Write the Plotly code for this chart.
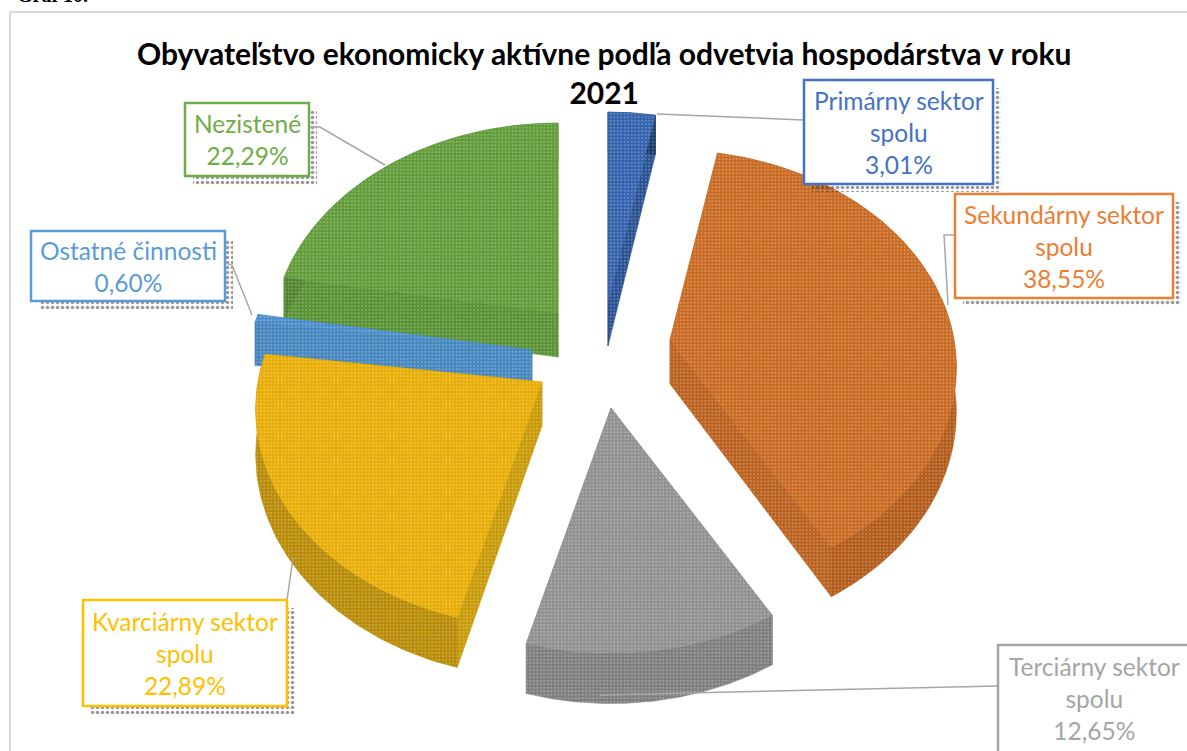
import numpy as np
import plotly.graph_objects as go

# ---- data ----
categories = ["Primárny sektor spolu", "Sekundárny sektor spolu", "Terciárny sektor spolu",
              "Kvarciárny sektor spolu", "Ostatné činnosti", "Nezistené"]
shares = [3.01, 38.55, 12.65, 22.89, 0.60, 22.29]
value_labels = ["3,01%", "38,55%", "12,65%", "22,89%", "0,60%", "22,29%"]
label_lines = [["Primárny sektor", "spolu"], ["Sekundárny sektor", "spolu"], ["Terciárny sektor", "spolu"],
               ["Kvarciárny sektor", "spolu"], ["Ostatné činnosti"], ["Nezistené"]]

# ---- style ----
top_colors = ["#3564ae", "#c96b24", "#919191", "#e8ad07", "#4c8ec9", "#629c3b"]
side_colors = ["#1d3a68", "#b35c1c", "#7f7f7f", "#b98c08", "#4480b8", "#528530"]
cut_colors = ["#2a5292", "#bb6220", "#888888", "#c99a08", "#4787bf", "#5a9236"]
box_colors = ["#4472C4", "#ED7D31", "#A5A5A5", "#FFC000", "#5B9BD5", "#70AD47"]
text_colors = box_colors
FONT = "Lato, Carlito, sans-serif"

# projection of the tilted pie onto the page
CX, CY = 606, 346
AX, AY, PERSP, DEPTH = 284, 214, 0.127, 44
offset_x = [2, 64, 5, -64, -74, -48]
offset_y = [-44, -6, 62, 36, 4, -33]
boxes = [(804, 80, 993, 184), (955, 194, 1173, 298), (998, 645, 1192, 756),
         (83, 600, 287, 706), (31, 231, 225, 301), (185, 103, 309, 176)]
leaders = [[(804, 120), (657, 114)], [(955, 235), (944, 235), (948, 305)], [(998, 686), (600, 695)],
           [(287, 600), (293, 558)], [(225, 263), (232, 265), (252, 315)], [(309, 127), (320, 127), (385, 165)]]


def project(theta):
    d = 1 + PERSP * np.cos(theta)
    return AX * np.sin(theta) / d, -AY * np.cos(theta) / d, DEPTH / d


fig = go.Figure()


def face(xs, ys, color, name):
    fig.add_trace(go.Scatter(
        x=xs, y=ys, mode="lines", fill="toself", fillcolor=color, name=name,
        line=dict(color=color, width=0.5), hoverinfo="name", showlegend=False,
        fillpattern=dict(shape=".", bgcolor=color, fgcolor="rgba(255,255,255,0.7)", size=3.5, solidity=0.2)))


total = sum(shares)
edges = np.cumsum([0] + shares) / total * 2 * np.pi
wedges = []
for i, share in enumerate(shares):
    a0, a1 = edges[i], edges[i + 1]
    apex_x = CX + offset_x[i]
    apex_y = CY + offset_y[i]
    th = np.linspace(a0, a1, 80)
    px, py, pd_ = project(th)
    wedges.append(dict(i=i, ax=apex_x, ay=apex_y, x=apex_x + px, y=apex_y + py, d=pd_))

# paint back to front
draw_order = [0, 5, 1, 4, 3, 2]
for k in draw_order:
    w = wedges[k]
    n = categories[k]
    ax_, ay_, x, y, d = w["ax"], w["ay"], w["x"], w["y"], w["d"]
    dc = DEPTH
    # cut faces
    face([ax_, x[0], x[0], ax_, ax_], [ay_, y[0], y[0] + d[0], ay_ + dc, ay_], cut_colors[k], n)
    face([ax_, x[-1], x[-1], ax_, ax_], [ay_, y[-1], y[-1] + d[-1], ay_ + dc, ay_], cut_colors[k], n)
    # outer wall
    wx = np.concatenate([x, x[::-1], x[:1]])
    wy = np.concatenate([y, (y + d)[::-1], y[:1]])
    face(wx, wy, side_colors[k], n)
    # top surface
    face(np.concatenate([[ax_], x, [ax_]]), np.concatenate([[ay_], y, [ay_]]), top_colors[k], n)

# ---- label shadows, boxes, leaders, text ----
shapes = [dict(type="rect", x0=10, y0=12, x1=1300, y1=900, line=dict(color="#d9d9d9", width=2), layer="below")]
annotations = []
for k, (x0, y0, x1, y1) in enumerate(boxes):
    if k != 2:
        sx0, sy0, sx1, sy1 = x0 + 8, y0 + 8, x1 + 8, y1 + 8
        fig.add_trace(go.Scatter(
            x=[sx0, sx1, sx1, sx0, sx0], y=[sy0, sy0, sy1, sy1, sy0], mode="lines", fill="toself",
            fillcolor="white", line=dict(width=0), hoverinfo="skip", showlegend=False,
            fillpattern=dict(shape=".", bgcolor="rgba(0,0,0,0)", fgcolor="#333333", size=5, solidity=0.4)))
    pts = leaders[k]
    fig.add_trace(go.Scatter(x=[p[0] for p in pts], y=[p[1] for p in pts], mode="lines",
                             line=dict(color="#a6a6a6", width=1.5), hoverinfo="skip", showlegend=False))
    shapes.append(dict(type="rect", x0=x0, y0=y0, x1=x1, y1=y1, fillcolor="white",
                       line=dict(color=box_colors[k], width=2.5), layer="above"))
    lines = label_lines[k] + [value_labels[k]]
    annotations.append(dict(
        x=(x0 + min(x1, 1190)) / 2, y=(y0 + min(y1, 751)) / 2,
        xref="x", yref="y", text="<br>".join(lines), showarrow=False, align="center",
        font=dict(family=FONT, size=24.5, color=text_colors[k])))

annotations.append(dict(x=604, y=72, xref="x", yref="y",
                        text="<b>Obyvateľstvo ekonomicky aktívne podľa odvetvia hospodárstva v roku<br>2021</b>",
                        showarrow=False, align="center", font=dict(family=FONT, size=30, color="black")))
annotations.append(dict(x=0, y=1, xref="paper", yref="paper", xanchor="left", yanchor="bottom", xshift=15, yshift=-8,
                        text="<b>Graf 10.</b>", showarrow=False,
                        font=dict(family="Liberation Serif", size=20, color="black")))

fig.update_layout(
    width=1187, height=751, margin=dict(l=0, r=0, t=0, b=0), paper_bgcolor="white", plot_bgcolor="white",
    xaxis=dict(range=[0, 1187], visible=False, fixedrange=True),
    yaxis=dict(range=[751, 0], visible=False, fixedrange=True),
    shapes=shapes, annotations=annotations, showlegend=False)
fig.write_html("out.html", config={"displayModeBar": False},
               post_script="document.body.style.margin='0';")
